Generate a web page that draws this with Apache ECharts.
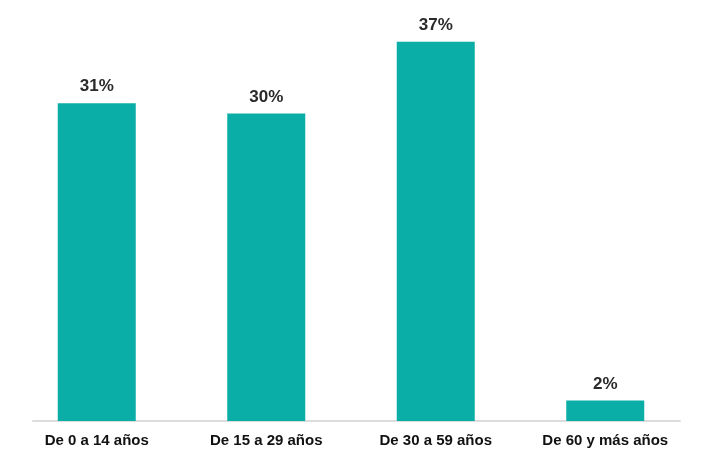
<!DOCTYPE html>
<html>
<head>
<meta charset="utf-8">
<script src="https://cdn.jsdelivr.net/npm/echarts@6/dist/echarts.min.js"></script>
<style>
    html, body { margin: 0; padding: 0; background: #fff; }
    #chart { width: 716px; height: 455px; }
</style>
</head>
<body>
<div id="chart"></div>
<script>
// grupos de edad
var categories = ['De 0 a 14 años', 'De 15 a 29 años', 'De 30 a 59 años', 'De 60 y más años'];
var values = [31, 30, 37, 2];

var myChart = echarts.init(document.getElementById('chart'));
var option = {
    animation: false,
    grid: [{
        left: 12,
        right: 26,
        top: 11,
        bottom: 34
    }, {
        // solo para la linea base, un poco mas corta que las bandas
        left: 33,
        right: 36,
        top: 11,
        bottom: 34
    }],
    xAxis: [{
        type: 'category',
        gridIndex: 0,
        data: categories,
        axisTick: { show: false },
        axisLine: { show: false },
        axisLabel: {
            color: '#111',
            fontFamily: 'Liberation Sans',
            fontWeight: 'bold',
            fontSize: 15,
            margin: 12
        }
    }, {
        type: 'category',
        gridIndex: 1,
        data: [''],
        axisTick: { show: false },
        axisLabel: { show: false },
        axisLine: { lineStyle: { color: '#dcdcdc', width: 2 } }
    }],
    yAxis: [{
        type: 'value',
        gridIndex: 0,
        min: 0,
        max: 40,
        show: false
    }, {
        type: 'value',
        gridIndex: 1,
        min: 0,
        max: 40,
        show: false
    }],
    series: [{
        type: 'bar',
        data: values,
        barWidth: 78,
        itemStyle: { color: '#0aaea6' },
        label: {
            show: true,
            position: 'top',
            distance: 8,
            formatter: '{c}%',
            color: '#2a2a2a',
            fontFamily: 'Liberation Sans',
            fontWeight: 'bold',
            fontSize: 17
        }
    }]
};
myChart.setOption(option);
</script>
</body>
</html>
